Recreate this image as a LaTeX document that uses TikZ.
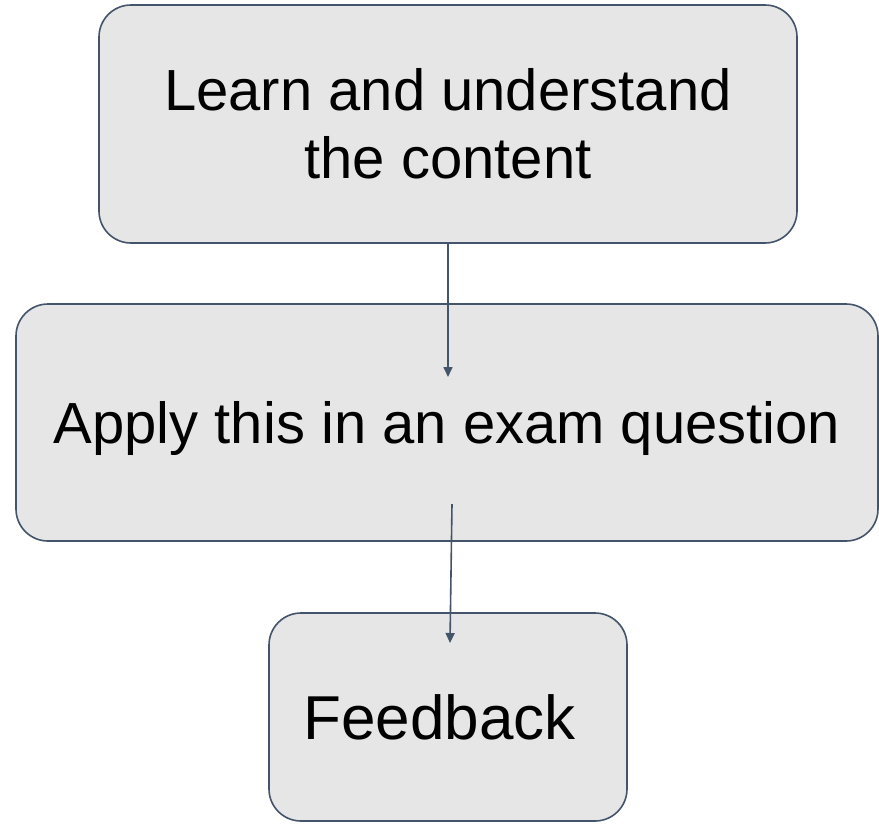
\documentclass[tikz,border=0pt]{standalone}
\usepackage{fontspec}
\setmainfont{Liberation Sans}
\usetikzlibrary{arrows.meta}
\definecolor{edgeblue}{HTML}{44546A}
\definecolor{boxfill}{HTML}{E6E6E6}
\begin{document}
\begin{tikzpicture}[x=1pt,y=-1pt,
  box/.style={draw=edgeblue, fill=boxfill, line width=1.6pt, rounded corners=32pt,
    rectangle, inner sep=0pt, align=center, text=black},
  conn/.style={draw=edgeblue, line width=1.6pt, -{Triangle[width=9pt,length=10pt]}}]
\useasboundingbox[fill=white] (0,0) rectangle (879,823);
\node[box, minimum width=698pt, minimum height=238pt,
  font=\fontsize{58}{68}\selectfont] (b1) at (448,124) {Learn and understand\\the content};
\node[box, minimum width=862pt, minimum height=237pt, text depth=0pt,
  font=\fontsize{58}{68}\selectfont] (b2) at (447,422.5) {Apply this in an exam question};
\node[box, minimum width=358pt, minimum height=208pt,
  font=\fontsize{62}{70}\selectfont] (b3) at (448,717) {Feedback\hspace*{0.278em}};
\coordinate (e1) at (448,377);
\coordinate (s2) at (452,504);
\coordinate (e2) at (450,643);
\draw[conn] (b1.south) -- (e1);
\draw[conn] (s2) -- (e2);
\end{tikzpicture}
\end{document}
